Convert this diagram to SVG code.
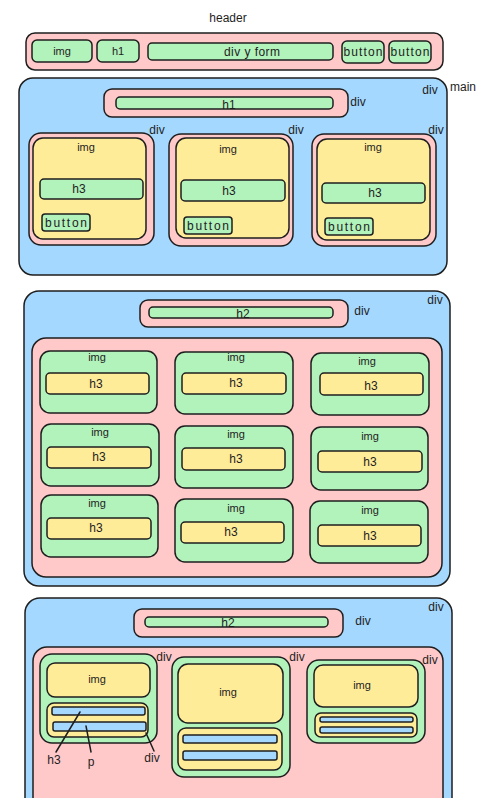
<svg xmlns="http://www.w3.org/2000/svg" width="479" height="798" viewBox="0 0 479 798">
<style>
rect{stroke:#1e1e1e;stroke-width:1.5}
.pk{fill:#ffc9c9}.bl{fill:#a5d8ff}.gr{fill:#b2f2bb}.ye{fill:#ffec99}
text{font-family:"Liberation Sans",Arial,sans-serif;font-size:12px;fill:#1e1e1e;text-anchor:middle}
.s{font-size:11px}
.con line{stroke:#1e1e1e;stroke-width:1.5;stroke-linecap:round}
</style>
<rect width="479" height="798" fill="#ffffff" style="stroke:none"/>
<text x="228" y="22">header</text>
<text x="463" y="91">main</text>
<g id="header">
<rect class="pk" x="26" y="33" width="417" height="37" rx="9"/>
<g id="h-img"><rect class="gr" x="32" y="40" width="60" height="22" rx="5"/><text class="s" x="62" y="55">img</text></g>
<g id="h-h1"><rect class="gr" x="97" y="40" width="42" height="22" rx="5"/><text class="s" x="118" y="55">h1</text></g>
<g id="h-form"><rect class="gr" x="148" y="43" width="185" height="17" rx="4"/><text x="252" y="56" textLength="56">div y form</text></g>
<g id="h-btn1"><rect class="gr" x="342" y="41" width="42" height="22" rx="5"/><text x="363" y="56" textLength="39">button</text></g>
<g id="h-btn2"><rect class="gr" x="389" y="41" width="42" height="22" rx="5"/><text x="410" y="56" textLength="39">button</text></g>
</g>
<g id="main1">
<rect class="bl" x="19" y="78" width="428" height="197" rx="14"/>
<text x="430" y="94">div</text>
<g id="m1-title"><rect class="pk" x="104" y="89" width="244" height="28" rx="8"/><rect class="gr" x="116" y="97" width="217" height="12" rx="4"/><text x="229" y="109">h1</text></g>
<text x="358" y="106">div</text>
<g id="m1-card1"><rect class="pk" x="29" y="133" width="125" height="112" rx="12"/><rect class="ye" x="33" y="138" width="113" height="101" rx="10"/><text class="s" x="86" y="151">img</text><rect class="gr" x="40" y="179" width="103" height="20" rx="4"/><text x="79" y="193">h3</text><rect class="gr" x="42" y="214" width="48" height="17" rx="3"/><text x="66" y="227" textLength="42">button</text></g>
<text x="157" y="134">div</text>
<g id="m1-card2"><rect class="pk" x="169" y="134" width="124" height="112" rx="12"/><rect class="ye" x="176" y="138" width="113" height="100" rx="10"/><text class="s" x="228" y="153">img</text><rect class="gr" x="181" y="180" width="104" height="21" rx="4"/><text x="229" y="195">h3</text><rect class="gr" x="184" y="217" width="48" height="17" rx="3"/><text x="208" y="230" textLength="42">button</text></g>
<text x="296" y="134">div</text>
<g id="m1-card3"><rect class="pk" x="312" y="134" width="124" height="112" rx="12"/><rect class="ye" x="317" y="139" width="113" height="101" rx="10"/><text class="s" x="373" y="151">img</text><rect class="gr" x="322" y="183" width="103" height="20" rx="4"/><text x="375" y="197">h3</text><rect class="gr" x="325" y="218" width="48" height="17" rx="3"/><text x="349" y="231" textLength="42">button</text></g>
<text x="436" y="134">div</text>
</g>
<g id="main2">
<rect class="bl" x="24" y="291" width="426" height="295" rx="15"/>
<text x="435" y="304">div</text>
<g id="m2-title"><rect class="pk" x="140" y="300" width="208" height="27" rx="8"/><rect class="gr" x="149" y="307" width="184" height="11" rx="4"/><text x="243" y="318">h2</text></g>
<text x="362" y="315">div</text>
<rect class="pk" x="32" y="338" width="410" height="239" rx="14"/>
<g id="g11"><rect class="gr" x="40" y="351" width="117" height="62" rx="10"/><rect class="ye" x="46" y="373" width="103" height="21" rx="4"/><text class="s" x="97" y="361">img</text><text x="96" y="388">h3</text></g>
<g id="g12"><rect class="gr" x="175" y="352" width="118" height="62" rx="10"/><rect class="ye" x="182" y="373" width="104" height="21" rx="4"/><text class="s" x="236" y="361">img</text><text x="236" y="387">h3</text></g>
<g id="g13"><rect class="gr" x="311" y="353" width="118" height="62" rx="10"/><rect class="ye" x="320" y="373" width="103" height="22" rx="4"/><text class="s" x="367" y="365">img</text><text x="371" y="390">h3</text></g>
<g id="g21"><rect class="gr" x="41" y="424" width="118" height="62" rx="10"/><rect class="ye" x="47" y="447" width="104" height="21" rx="4"/><text class="s" x="100" y="436">img</text><text x="99" y="461">h3</text></g>
<g id="g22"><rect class="gr" x="175" y="426" width="118" height="62" rx="10"/><rect class="ye" x="182" y="448" width="103" height="22" rx="4"/><text class="s" x="236" y="438">img</text><text x="236" y="463">h3</text></g>
<g id="g23"><rect class="gr" x="311" y="427" width="117" height="63" rx="10"/><rect class="ye" x="318" y="451" width="104" height="21" rx="4"/><text class="s" x="370" y="440">img</text><text x="370" y="466">h3</text></g>
<g id="g31"><rect class="gr" x="41" y="495" width="117" height="62" rx="10"/><rect class="ye" x="47" y="518" width="104" height="21" rx="4"/><text class="s" x="97" y="507">img</text><text x="96" y="532">h3</text></g>
<g id="g32"><rect class="gr" x="175" y="499" width="118" height="63" rx="10"/><rect class="ye" x="181" y="522" width="103" height="21" rx="4"/><text class="s" x="236" y="512">img</text><text x="231" y="536">h3</text></g>
<g id="g33"><rect class="gr" x="310" y="501" width="118" height="62" rx="10"/><rect class="ye" x="318" y="525" width="103" height="21" rx="4"/><text class="s" x="370" y="514">img</text><text x="370" y="540">h3</text></g>
</g>
<g id="main3">
<rect class="bl" x="25" y="598" width="427" height="230" rx="15"/>
<text x="436" y="611">div</text>
<g id="m3-title"><rect class="pk" x="134" y="609" width="209" height="28" rx="8"/><rect class="gr" x="145" y="617" width="183" height="10" rx="4"/><text x="228" y="627">h2</text></g>
<text x="363" y="625">div</text>
<rect class="pk" x="33" y="647" width="410" height="180" rx="14"/>
<g id="c1"><rect class="gr" x="40" y="654" width="117" height="89" rx="12"/><rect class="ye" x="47" y="663" width="103" height="34" rx="8"/><text class="s" x="97" y="683">img</text><rect class="ye" x="47" y="703" width="101" height="34" rx="7"/><rect class="bl" x="52" y="707" width="93" height="8" rx="2"/><rect class="bl" x="53" y="722" width="93" height="9" rx="2"/></g>
<text x="164" y="661">div</text>
<g id="c2"><rect class="gr" x="172" y="657" width="118" height="120" rx="12"/><rect class="ye" x="178" y="664" width="105" height="59" rx="10"/><text class="s" x="228" y="696">img</text><rect class="ye" x="178" y="728" width="104" height="42" rx="8"/><rect class="bl" x="183" y="735" width="94" height="8" rx="2"/><rect class="bl" x="183" y="751" width="94" height="9" rx="2"/></g>
<text x="297" y="661">div</text>
<g id="c3"><rect class="gr" x="307" y="660" width="118" height="83" rx="12"/><rect class="ye" x="314" y="665" width="104" height="42" rx="9"/><text class="s" x="362" y="689">img</text><rect class="ye" x="315" y="713" width="102" height="24" rx="6"/><rect class="bl" x="320" y="717" width="93" height="5" rx="2"/><rect class="bl" x="320" y="727" width="93" height="6" rx="2"/></g>
<text x="430" y="664">div</text>
</g>
<g id="connectors" class="con">
<line x1="80" y1="712" x2="56" y2="752"/>
<line x1="86" y1="726" x2="91" y2="752"/>
<line x1="146" y1="733" x2="154" y2="751"/>
</g>
<text x="54" y="764">h3</text>
<text x="91" y="766">p</text>
<text x="152" y="762">div</text>
</svg>
